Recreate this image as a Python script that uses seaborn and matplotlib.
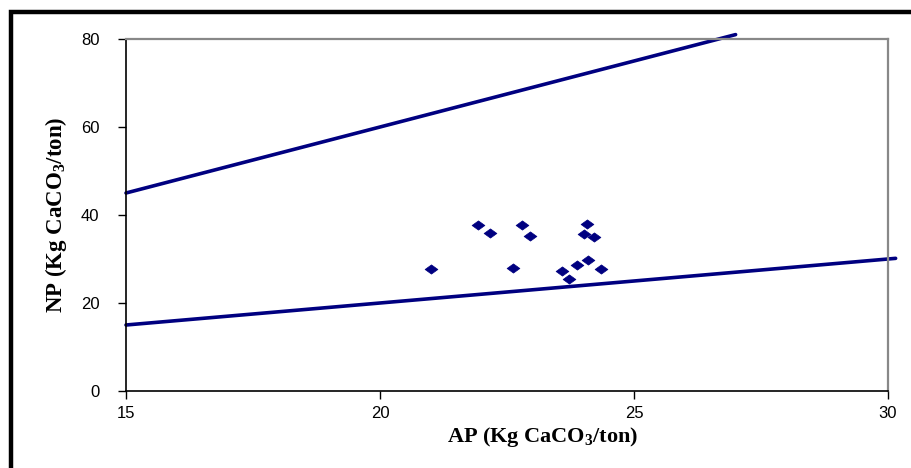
import numpy as np
import pandas as pd
import seaborn as sns
import matplotlib.pyplot as plt
from matplotlib.path import Path
from matplotlib.patches import Rectangle

# data
ap = [21.0, 21.93, 22.17, 22.80, 22.95, 22.61, 24.07, 24.02, 24.22, 23.58, 23.73, 23.88, 24.10, 24.36]
np_vals = [27.7, 37.7, 36.0, 37.7, 35.2, 28.0, 38.0, 35.75, 34.9, 27.3, 25.5, 28.6, 29.7, 27.7]

# reference lines NP = 3*AP and NP = AP
upper_ap = [15, 27]
upper_np = [45, 81]
lower_ap = [15, 30.15]
lower_np = [15, 30.15]

x_ticks = [15, 20, 25, 30]
y_ticks = [0, 20, 40, 60, 80]

sns.set_theme(style="white")
plt.rcParams['font.family'] = ['Liberation Sans', 'DejaVu Sans']
plt.rcParams['text.color'] = 'black'
plt.rcParams['axes.labelcolor'] = 'black'
plt.rcParams['xtick.color'] = 'black'
plt.rcParams['ytick.color'] = 'black'
plt.rcParams['mathtext.fontset'] = 'custom'
plt.rcParams['mathtext.rm'] = 'Liberation Serif:bold'
plt.rcParams['mathtext.it'] = 'Liberation Serif:bold'
plt.rcParams['mathtext.bf'] = 'Liberation Serif:bold'

navy = '#000080'
df = pd.DataFrame({'AP': ap, 'NP': np_vals})

fig = plt.figure(figsize=(9.12, 4.68), dpi=100)
ax = fig.add_axes([126 / 912, 1 - 391 / 468, (888 - 126) / 912, (391 - 39) / 468])

diamond = Path([(-1, 0), (0, 0.72), (1, 0), (0, -0.72), (-1, 0)],
               [Path.MOVETO, Path.LINETO, Path.LINETO, Path.LINETO, Path.CLOSEPOLY])

sns.lineplot(x=upper_ap, y=upper_np, ax=ax, color=navy, linewidth=2.6)
sns.lineplot(x=lower_ap, y=lower_np, ax=ax, color=navy, linewidth=2.6)
for ln in ax.lines:
    ln.set_clip_on(False)
sns.scatterplot(data=df, x='AP', y='NP', ax=ax, marker=diamond, s=85,
                color=navy, edgecolor=navy, linewidth=0.5, zorder=5)

ax.set_xlim(15, 30)
ax.set_ylim(0, 80)
ax.set_xticks(x_ticks)
ax.set_yticks(y_ticks)
ax.tick_params(axis='both', which='both', direction='out', length=6, width=1,
               color='black', labelcolor='black', labelsize=12,
               bottom=True, left=True, top=False, right=False)
ax.tick_params(axis='y', pad=13)
ax.tick_params(axis='x', pad=5)

for side in ['left', 'bottom']:
    ax.spines[side].set_color('black')
    ax.spines[side].set_linewidth(1.2)
for side in ['top', 'right']:
    ax.spines[side].set_color('#888888')
    ax.spines[side].set_linewidth(1.6)

ax.set_xlabel('AP (Kg CaCO$_3$/ton)', fontsize=16, fontweight='bold',
              family='Liberation Serif', color='black', va='center')
ax.set_ylabel('NP (Kg CaCO$_3$/ton)', fontsize=16.5, fontweight='bold',
              family='Liberation Serif', color='black', va='center')
ax.xaxis.set_label_coords((543 - 126) / 762, (391 - 437) / 352)
ax.yaxis.set_label_coords((56 - 126) / 762, 0.5)

# outer chart frame (only left and top edges fall inside the image)
fig.patches.append(Rectangle((11 / 912, -0.2), 1.2, (468 - 12) / 468 + 0.2,
                             transform=fig.transFigure, fill=False,
                             edgecolor='black', linewidth=3.2))

fig.savefig('out.png', dpi=100)
